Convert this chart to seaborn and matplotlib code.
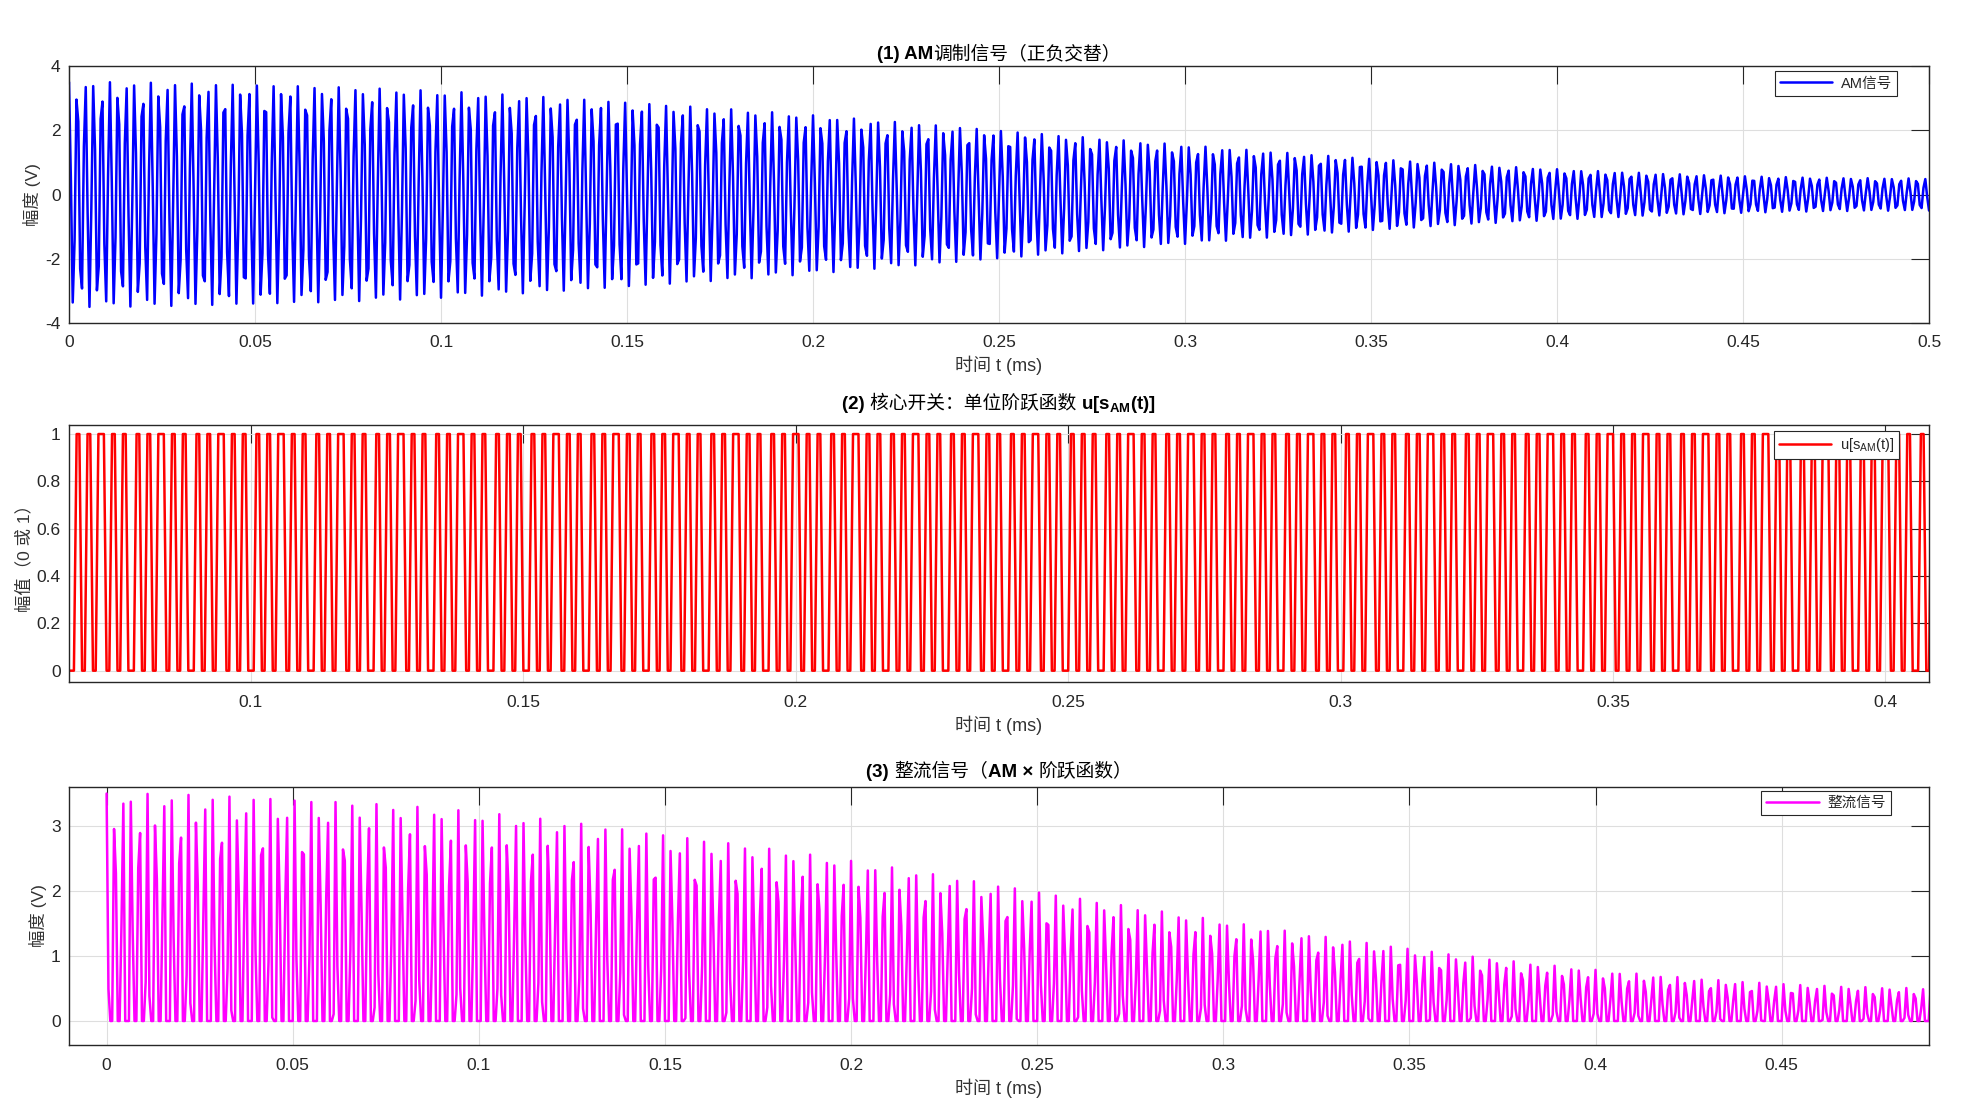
import numpy as np
import pandas as pd
import seaborn as sns
import matplotlib.pyplot as plt
from matplotlib.offsetbox import TextArea, HPacker, AnchoredOffsetbox

# signal parameters
sample_rate_khz = 2000.0   # 2 MHz sampling (gives the uneven peak heights)
carrier_khz = 455.0        # ~22.75 cycles per 0.05 ms
message_khz = 1.0          # envelope: 3.5 at 0 ms, 2 at 0.25 ms, 0.5 at 0.5 ms
carrier_amp = 2.0
mod_index = 0.75
duration_ms = 0.5

n_samples = int(duration_ms * sample_rate_khz) + 1
t_ms = np.arange(n_samples) / sample_rate_khz
s_am = carrier_amp * (1 + mod_index * np.cos(2 * np.pi * message_khz * t_ms)) \
    * np.cos(2 * np.pi * carrier_khz * t_ms)
u_step = (s_am > 0).astype(float)
rectified = s_am * u_step

df = pd.DataFrame({"t": t_ms, "s": s_am, "u": u_step, "r": rectified})

# title pieces: (text, bold?)
titles = [
    [("(1) AM", True), ("调制信号（正负交替）", False)],
    [("(2) ", True), ("核心开关：单位阶跃函数 ", False), (r"u[s$_{\mathbf{AM}}$(t)]", True)],
    [("(3) ", True), ("整流信号（", False), ("AM × ", True), ("阶跃函数）", False)],
]
ylabels = ["幅度 (V)", "幅值（0 或 1）", "幅度 (V)"]
legend_labels = ["AM信号", r"u[s$_{\mathrm{AM}}$(t)]", "整流信号"]
xlabel = "时间 t (ms)"
xlims = [(0, 0.5), (0.0666, 0.408), (-0.0101, 0.4896)]
ylims = [(-4, 4), (-0.048, 1.038), (-0.37, 3.6)]
yticks = [[-4, -2, 0, 2, 4], [0, 0.2, 0.4, 0.6, 0.8, 1], [0, 1, 2, 3]]
ytick_labels = [["-4", "-2", "0", "2", "4"],
                ["0", "0.2", "0.4", "0.6", "0.8", "1"],
                ["0", "1", "2", "3"]]
xticks = [[0, 0.05, 0.1, 0.15, 0.2, 0.25, 0.3, 0.35, 0.4, 0.45, 0.5],
          [0.1, 0.15, 0.2, 0.25, 0.3, 0.35, 0.4],
          [0, 0.05, 0.1, 0.15, 0.2, 0.25, 0.3, 0.35, 0.4, 0.45]]
xtick_labels = [["0", "0.05", "0.1", "0.15", "0.2", "0.25", "0.3", "0.35", "0.4", "0.45", "0.5"],
                ["0.1", "0.15", "0.2", "0.25", "0.3", "0.35", "0.4"],
                ["0", "0.05", "0.1", "0.15", "0.2", "0.25", "0.3", "0.35", "0.4", "0.45"]]
columns = ["s", "u", "r"]
colors = ["#0000ff", "#ff0000", "#ff00ff"]

sns.set_theme(style="white")
plt.rcParams["font.family"] = ["Liberation Sans", "Noto Sans CJK SC", "DejaVu Sans"]
plt.rcParams["axes.unicode_minus"] = False
plt.rcParams["mathtext.fontset"] = "custom"
plt.rcParams["mathtext.rm"] = "Liberation Sans"
plt.rcParams["mathtext.it"] = "Liberation Sans:italic"
plt.rcParams["mathtext.bf"] = "Liberation Sans:bold"

fig = plt.figure(figsize=(19.66, 11.02), dpi=100)
positions = [
    [0.0351, 0.7069, 0.9461, 0.2332],
    [0.0351, 0.3811, 0.9461, 0.2332],
    [0.0351, 0.0517, 0.9461, 0.2341],
]
title_y = [1.012, 1.04, 1.025]
legend_anchors = [(0.983, 0.979), (0.984, 0.976), (0.9796, 0.986)]
edge = "#262626"

for i in range(3):
    ax = fig.add_axes(positions[i])
    sns.lineplot(data=df, x="t", y=columns[i], ax=ax, color=colors[i],
                 linewidth=1.8, label=legend_labels[i], estimator=None, sort=False)
    ax.set_xlim(*xlims[i])
    ax.set_ylim(*ylims[i])
    ax.set_xticks(xticks[i])
    ax.set_xticklabels(xtick_labels[i])
    ax.set_yticks(yticks[i])
    ax.set_yticklabels(ytick_labels[i])
    ax.grid(True, color="#dedede", linewidth=0.8)
    ax.set_axisbelow(True)
    for sp in ax.spines.values():
        sp.set_visible(True)
        sp.set_color(edge)
        sp.set_linewidth(1.0)
    ax.tick_params(axis="both", direction="in", top=True, right=True,
                   length=13, width=0.8, color=edge, labelcolor=edge, labelsize=12.5)
    ax.tick_params(axis="x", pad=9)
    ax.tick_params(axis="y", pad=6)

    # mixed-weight title: bold latin, regular CJK
    pieces = [TextArea(txt, textprops=dict(fontsize=13.5, color="black",
                                           fontweight="bold" if bold else "normal"))
              for txt, bold in titles[i]]
    pack = HPacker(children=pieces, align="baseline", pad=0, sep=0)
    title_box = AnchoredOffsetbox(loc="lower center", child=pack, pad=0, borderpad=0,
                                  frameon=False, bbox_to_anchor=(0.5, title_y[i]),
                                  bbox_transform=ax.transAxes)
    ax.add_artist(title_box)

    ax.set_xlabel(xlabel, fontsize=13, color="#333333", labelpad=4)
    ax.set_ylabel(ylabels[i], fontsize=12.5, color="#333333", labelpad=3)
    leg = ax.legend(loc="upper right", bbox_to_anchor=legend_anchors[i],
                    borderaxespad=0, fancybox=False, framealpha=1,
                    edgecolor=edge, fontsize=10.5, handlelength=3.6,
                    borderpad=0.35, handletextpad=0.6)
    leg.get_frame().set_linewidth(0.8)

fig.savefig("out.png", dpi=100)
